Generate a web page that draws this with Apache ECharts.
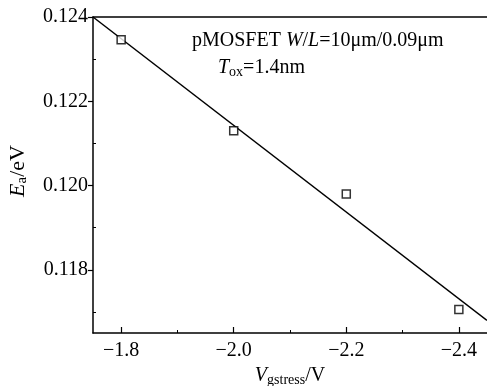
<!DOCTYPE html>
<html>
<head>
<meta charset="utf-8">
<script src="https://cdn.jsdelivr.net/npm/echarts@6/dist/echarts.min.js"></script>
<style>
  html, body { margin: 0; padding: 0; background: #fff; }
  #chart { width: 487px; height: 386px; }
</style>
</head>
<body>
<div id="chart"></div>
<script>
// measured points
const vStress = [-1.8, -2.0, -2.2, -2.4];
const eA = [0.12346, 0.1213, 0.1198, 0.11706];
// linear fit end points
const fitX = [-1.75, -2.45];
const fitY = [0.124, 0.1168];
// ticks
const xMajor = [-1.8, -2.0, -2.2, -2.4];
const xMinor = [-1.9, -2.1, -2.3];
const yMajor = [0.118, 0.120, 0.122, 0.124];
const yMinor = [0.117, 0.119, 0.121, 0.123];

const FONT = '"Liberation Serif", "Times New Roman", serif';
const chart = echarts.init(document.getElementById('chart'));

const axisLine = { show: true, lineStyle: { color: '#000', width: 1.5 } };
const xRange = { min: -2.45, max: -1.75, inverse: true };
const yRange = { min: 0.1165, max: 0.124 };
const richTitle = (size, sub) => ({
  i: { fontFamily: FONT, fontStyle: 'italic', fontSize: size, color: '#000' },
  s: { fontFamily: FONT, fontSize: sub, color: '#000', verticalAlign: 'bottom', padding: [9, 0, 0, 0] },
  n: { fontFamily: FONT, fontSize: size, color: '#000' }
});

chart.setOption({
  animation: false,
  grid: { left: 93, top: 17, right: 0, bottom: 53, outerBoundsMode: 'none', containLabel: false },
  xAxis: [
    {
      type: 'value', ...xRange, position: 'bottom',
      axisLine,
      splitLine: { show: false },
      axisTick: { show: true, inside: true, length: 6, customValues: xMajor, lineStyle: { color: '#000', width: 1.2 } },
      axisLabel: {
        customValues: xMajor, margin: 8, color: '#000', fontFamily: FONT, fontSize: 20,
        formatter: v => '\u2212' + Math.abs(v).toFixed(1)
      },
      name: '{i|V}{s|gstress}{n|/V}',
      nameLocation: 'middle', nameGap: 30,
      nameTextStyle: { rich: richTitle(20, 14) }
    },
    {
      type: 'value', ...xRange, position: 'bottom',
      axisLine: { show: false }, splitLine: { show: false }, axisLabel: { show: false },
      axisTick: { show: true, inside: true, length: 3, customValues: xMinor, lineStyle: { color: '#000', width: 1 } }
    },
    {
      type: 'value', ...xRange, position: 'top',
      axisLine, splitLine: { show: false }, axisLabel: { show: false }, axisTick: { show: false }
    }
  ],
  yAxis: [
    {
      type: 'value', ...yRange, position: 'left',
      axisLine,
      splitLine: { show: false },
      axisTick: { show: true, inside: false, length: 5, customValues: yMajor, lineStyle: { color: '#000', width: 1.2 } },
      axisLabel: {
        customValues: yMajor, margin: 5, color: '#000', fontFamily: FONT, fontSize: 20,
        formatter: v => v.toFixed(3)
      },
      name: '{i|E}{s|a}{n|/eV}',
      nameLocation: 'middle', nameGap: 63, nameRotate: 90,
      nameTextStyle: { rich: richTitle(22, 15), padding: [0, 0, 0, 8] }
    },
    {
      type: 'value', ...yRange, position: 'left',
      axisLine: { show: false }, splitLine: { show: false }, axisLabel: { show: false },
      axisTick: { show: true, inside: true, length: 3, customValues: yMinor, lineStyle: { color: '#000', width: 1 } }
    }
  ],
  graphic: [
    {
      type: 'text', left: 192, top: 31,
      style: {
        text: '{n|pMOSFET }{i|W}{n|/}{i|L}{n|=10\u03bcm/0.09\u03bcm}',
        rich: {
          n: { fontFamily: FONT, fontSize: 20, fill: '#000' },
          i: { fontFamily: FONT, fontStyle: 'italic', fontSize: 20, fill: '#000' }
        }
      }
    },
    {
      type: 'text', left: 218, top: 58,
      style: {
        text: '{i|T}{s|ox}{n|=1.4nm}',
        rich: {
          n: { fontFamily: FONT, fontSize: 20, fill: '#000' },
          i: { fontFamily: FONT, fontStyle: 'italic', fontSize: 20, fill: '#000' },
          s: { fontFamily: FONT, fontSize: 14, fill: '#000', verticalAlign: 'bottom', padding: [9, 0, 0, 0] }
        }
      }
    }
  ],
  series: [
    {
      type: 'line',
      data: fitX.map((x, i) => [x, fitY[i]]),
      showSymbol: false,
      lineStyle: { color: '#000', width: 1.5 },
      silent: true,
      z: 2
    },
    {
      type: 'scatter',
      data: vStress.map((x, i) => [x, eA[i]]),
      symbol: 'rect', symbolSize: 8,
      itemStyle: { color: '#fff', borderColor: '#000', borderWidth: 1.5 },
      z: 3
    }
  ]
});
</script>
</body>
</html>
